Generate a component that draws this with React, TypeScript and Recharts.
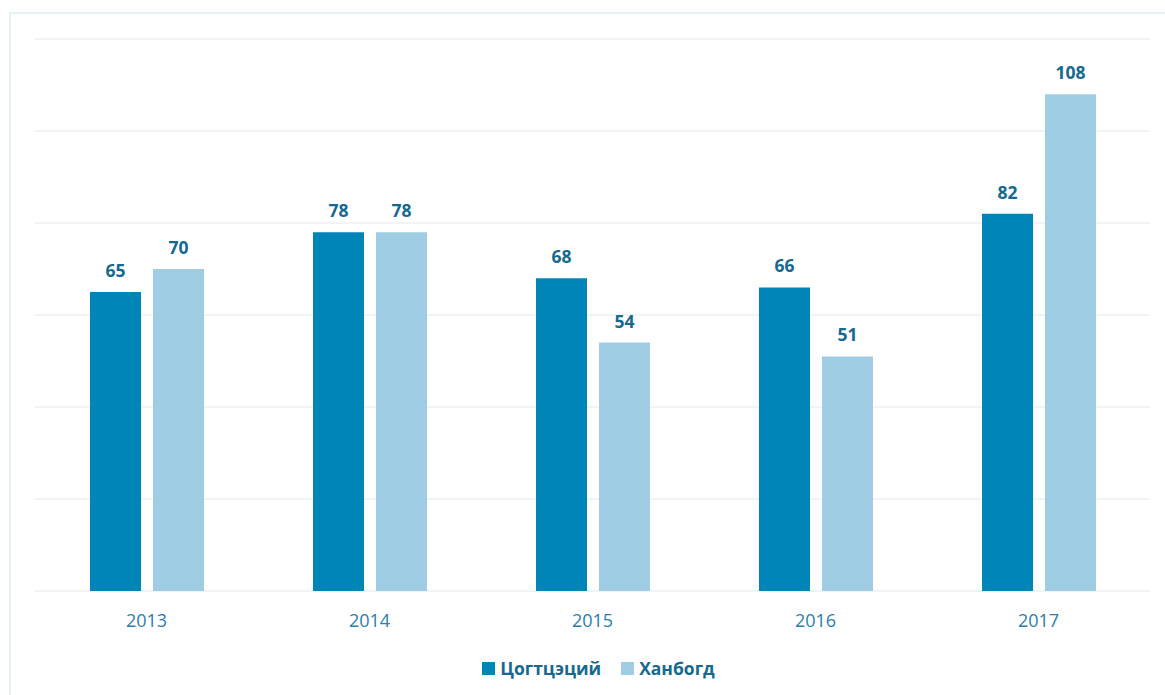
import React from "react";
import { BarChart, Bar, XAxis, YAxis, CartesianGrid, LabelList, Legend } from "recharts";

const years = ["2013", "2014", "2015", "2016", "2017"];
const tsogttsetsii = [65, 78, 68, 66, 82];
const khanbogd = [70, 78, 54, 51, 108];
const seriesNames = ["Цогтцэций", "Ханбогд"];
const yTicks = [0, 20, 40, 60, 80, 100, 120];

const data = years.map((y, i) => ({ year: y, a: tsogttsetsii[i], b: khanbogd[i] }));

const DARK = "#0085b8";
const LIGHT = "#9fcee4";
const LABEL = "#16698f";
const FONT = "'Open Sans', sans-serif";

const LegendContent = () => (
  <div style={{ display: "flex", justifyContent: "center", alignItems: "center", fontFamily: FONT, fontWeight: 700, fontSize: 17.5, color: LABEL, transform: "translate(6px, 15px)" }}>
    {[DARK, LIGHT].map((c, i) => (
      <div key={i} style={{ display: "flex", alignItems: "center", marginRight: i === 0 ? 20 : 0 }}>
        <span style={{ display: "inline-block", width: 13, height: 13, background: c, marginRight: 5 }} />
        <span>{seriesNames[i]}</span>
      </div>
    ))}
  </div>
);

export default function App() {
  return (
    <div style={{ position: "absolute", left: 0, top: 0, width: 1165, height: 695, overflow: "hidden", background: "#fff" }}>
      <div style={{ position: "absolute", left: 9, top: 12, width: 1200, height: 800, border: "2px solid #e6f0f7", boxSizing: "border-box" }} />
      <div style={{ position: "absolute", left: 0, top: 0 }}>
        <BarChart width={1165} height={695} data={data} margin={{ top: 39, right: 15, left: 35, bottom: 14 }} barGap={12} barSize={51}>
          <CartesianGrid horizontal vertical={false} stroke="#edf1f4" strokeWidth={1.5} />
          <YAxis hide domain={[0, 120]} ticks={yTicks} />
          <XAxis dataKey="year" axisLine={false} tickLine={false} tick={{ fill: "#2a80aa", fontSize: 18, fontFamily: FONT }} tickMargin={17} height={50} />
          <Legend verticalAlign="bottom" content={<LegendContent />} wrapperStyle={{ height: 40 }} />
          <Bar dataKey="a" fill={DARK} isAnimationActive={false}>
            <LabelList dataKey="a" position="top" offset={15} fill={LABEL} fontSize={17.5} fontWeight={700} fontFamily={FONT} />
          </Bar>
          <Bar dataKey="b" fill={LIGHT} isAnimationActive={false}>
            <LabelList dataKey="b" position="top" offset={15} fill={LABEL} fontSize={17.5} fontWeight={700} fontFamily={FONT} />
          </Bar>
        </BarChart>
      </div>
    </div>
  );
}
